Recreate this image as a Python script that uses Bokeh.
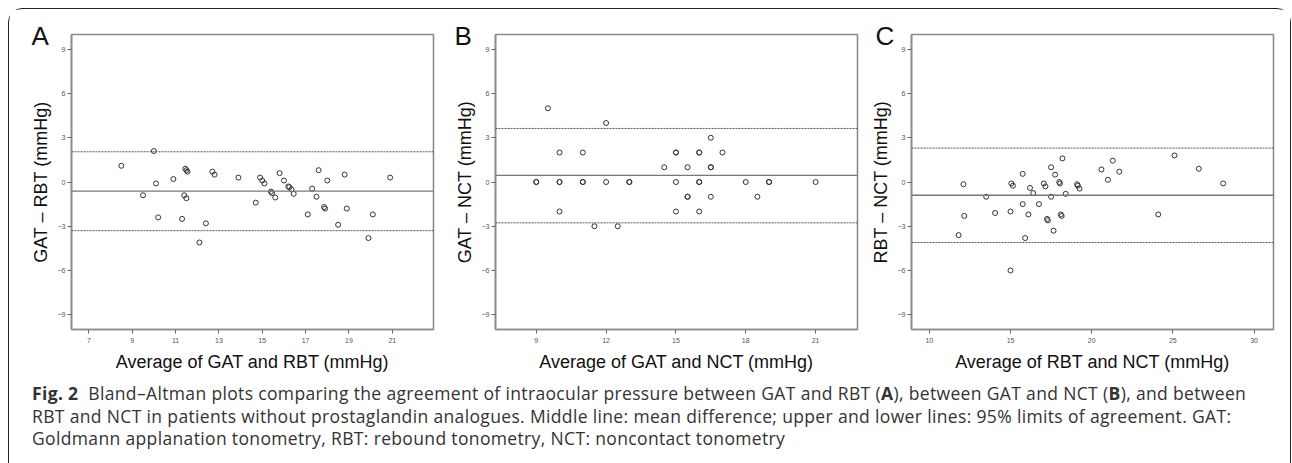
from bokeh.plotting import figure
from bokeh.layouts import column, row
from bokeh.models import Div, Span, Range1d, FixedTicker, Title
from bokeh.embed import file_html
from bokeh.resources import INLINE

# ---------------- data ----------------
# Panel A: GAT - RBT
a_avg = [8.5, 10.0, 10.1, 9.5, 10.9, 11.45, 11.5, 11.55, 11.4, 11.5, 12.7, 12.8, 13.9,
         14.9, 15.0, 15.1, 15.8, 16.0, 16.2, 16.25, 16.35, 16.45, 15.4, 15.45, 15.6,
         17.3, 17.5, 17.6, 18.0, 18.8, 20.9, 10.2, 11.3, 12.1, 12.4, 14.7, 17.1,
         17.85, 17.9, 18.5, 18.9, 19.9, 20.1]
a_diff = [1.1, 2.1, -0.1, -0.9, 0.2, 0.9, 0.8, 0.7, -0.9, -1.1, 0.7, 0.5, 0.3,
          0.3, 0.1, -0.1, 0.6, 0.1, -0.3, -0.35, -0.5, -0.8, -0.65, -0.75, -1.05,
          -0.45, -1.0, 0.8, 0.1, 0.5, 0.3, -2.4, -2.5, -4.1, -2.8, -1.4, -2.2,
          -1.7, -1.8, -2.9, -1.8, -3.8, -2.2]

# Panel B: GAT - NCT
b_avg = [9, 9, 9.5, 10, 10, 10, 10, 11, 11, 11, 11.5, 12, 12, 12.5, 13, 13, 14.5,
         15, 15, 15, 15, 15.5, 15.5, 15.5, 16, 16, 16, 16, 16, 16.5, 16.5, 16.5, 16.5,
         17, 18, 18.5, 19, 19, 21]
b_diff = [0, 0, 5, 2, 0, 0, -2, 2, 0, 0, -3, 4, 0, -3, 0, 0, 1,
          2, 2, 0, -2, 1, -1, -1, 2, 2, 0, 0, -2, 3, 1, 1, -1,
          2, 0, -1, 0, 0, 0]

# Panel C: RBT - NCT
c_avg = [12.1, 12.15, 11.8, 13.5, 14.05, 15.05, 15.15, 15.0, 15.0, 15.75, 15.75, 15.9,
         16.1, 16.2, 16.4, 16.75, 17.05, 17.15, 17.25, 17.3, 17.5, 17.75, 17.5, 17.65,
         18.0, 18.05, 18.1, 18.15, 18.2, 18.4, 19.1, 19.15, 19.25, 20.6, 21.0, 21.3,
         21.7, 25.1, 26.6, 28.1, 24.1]
c_diff = [-0.15, -2.3, -3.6, -1.0, -2.1, -0.1, -0.25, -2.0, -6.0, 0.55, -1.5, -3.8,
          -2.2, -0.4, -0.75, -1.5, -0.1, -0.3, -2.5, -2.6, 1.0, 0.5, -1.0, -3.3,
          0.0, -0.1, -2.2, -2.3, 1.6, -0.8, -0.15, -0.25, -0.45, 0.85, 0.15, 1.45,
          0.7, 1.8, 0.9, -0.1, -2.2]

mean_diff = [-0.62, 0.45, -0.9]
upper_loa = [2.05, 3.63, 2.3]
lower_loa = [-3.3, -2.77, -4.1]

panel_letters = ["A", "B", "C"]
x_titles = ["Average of GAT and RBT (mmHg)", "Average of GAT and NCT (mmHg)",
            "Average of RBT and NCT (mmHg)"]
y_titles = ["GAT \u2013 RBT (mmHg)", "GAT \u2013 NCT (mmHg)", "RBT \u2013 NCT (mmHg)"]
x_ticks = [[7, 9, 11, 13, 15, 17, 19, 21], [9, 12, 15, 18, 21], [10, 15, 20, 25, 30]]
y_ticks = [-9, -6, -3, 0, 3, 6, 9]
x_ranges = [(6.2, 22.9), (7.25, 22.8), (8.9, 31.2)]
y_range = (-10, 10)

# ---------------- layout ----------------
FRAME_W, FRAME_H = 362, 295
borders_lr = [(62, 12), (50, 10), (43, 17)]
letter_offset_px = [40, 41, 36]   # letter left edge, px left of frame
GREY = "#8c8c8c"


def make_panel(i, xs, ys):
    bl, br = borders_lr[i]
    x0, x1 = x_ranges[i]
    p = figure(frame_width=FRAME_W, frame_height=FRAME_H,
               min_border_left=bl, min_border_right=br,
               min_border_top=25, min_border_bottom=48,
               x_range=Range1d(x0, x1), y_range=Range1d(*y_range),
               output_backend="svg", toolbar_location=None, tools="")
    p.grid.visible = False
    p.outline_line_color = GREY
    p.outline_line_width = 1.6
    p.background_fill_color = "white"
    p.border_fill_color = "white"
    for ax in (p.xaxis[0], p.yaxis[0]):
        ax.axis_line_color = GREY
        ax.axis_line_width = 1.6
        ax.major_tick_line_color = "#666666"
        ax.major_tick_out = 4
        ax.major_tick_in = 0
        ax.minor_tick_line_color = None
        ax.major_label_text_font = "Liberation Sans"
        ax.major_label_text_font_size = "7px"
        ax.major_label_text_color = "#555555"
        ax.axis_label_text_font = "Liberation Sans"
        ax.axis_label_text_font_size = "18px"
        ax.axis_label_text_font_style = "normal"
        ax.axis_label_text_color = "#111111"
    p.xaxis[0].ticker = FixedTicker(ticks=x_ticks[i])
    p.yaxis[0].ticker = FixedTicker(ticks=y_ticks)
    p.xaxis[0].axis_label = x_titles[i]
    p.yaxis[0].axis_label = y_titles[i]
    p.xaxis[0].major_label_standoff = 4
    p.yaxis[0].major_label_standoff = 2
    p.xaxis[0].axis_label_standoff = 6
    p.yaxis[0].axis_label_standoff = 4

    p.add_layout(Span(location=mean_diff[i], dimension="width",
                      line_color="#777777", line_width=1.4))
    p.add_layout(Span(location=upper_loa[i], dimension="width",
                      line_color="#555555", line_width=1.0, line_dash="2 1"))
    p.add_layout(Span(location=lower_loa[i], dimension="width",
                      line_color="#555555", line_width=1.0, line_dash="2 1"))

    p.scatter(xs, ys, marker="circle", size=5, fill_color=None,
              line_color="#333333", line_width=1)

    p.title = Title(text=panel_letters[i], text_font="Liberation Sans",
                    text_font_size="26px", text_color="#111111",
                    text_font_style="normal", align="left",
                    offset=-letter_offset_px[i], standoff=-32)
    return p


pA = make_panel(0, a_avg, a_diff)
pB = make_panel(1, b_avg, b_diff)
pC = make_panel(2, c_avg, c_diff)

caption_html = (
    "<b>Fig. 2</b>&nbsp; Bland\u2013Altman plots comparing the agreement of intraocular pressure "
    "between GAT and RBT (<b>A</b>), between GAT and NCT (<b>B</b>), and between<br>"
    "RBT and NCT in patients without prostaglandin analogues. Middle line: mean difference; "
    "upper and lower lines: 95% limits of agreement. GAT:<br>"
    "Goldmann applanation tonometry, RBT: rebound tonometry, NCT: noncontact tonometry"
)
cap = Div(text=caption_html, width=1270, height=78,
          styles={"font-family": "Open Sans", "font-size": "17.5px",
                  "letter-spacing": "0.35px",
                  "line-height": "22.5px", "color": "#333333",
                  "white-space": "nowrap", "padding-left": "18px"})

layout = column(row(pA, pB, pC, spacing=0), cap, spacing=0,
                styles={"border": "1.5px solid #222222",
                        "border-radius": "14px 14px 0 0",
                        "margin-top": "8px", "margin-left": "8px"})

open("out.html", "w").write(file_html(layout, INLINE))
